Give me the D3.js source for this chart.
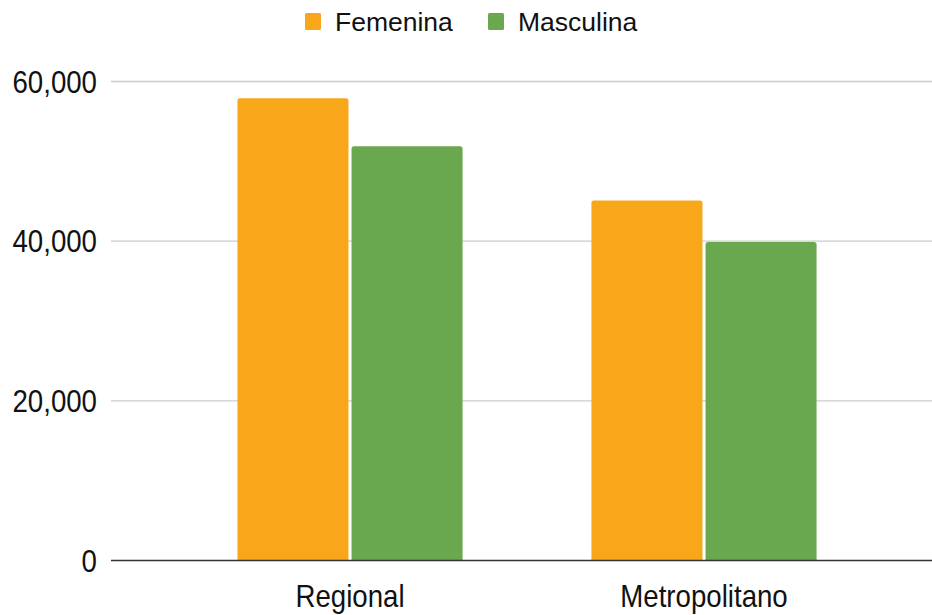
<!DOCTYPE html>
<html>
<head>
    <title></title>
    <meta charset="utf-8">
    <style>
        body { margin: 0; background: #fff; }
        text { font-family: 'Liberation Sans', Arial, sans-serif; fill: #111; }
    </style>
</head>
<body>
<script src="https://cdn.jsdelivr.net/npm/d3@7"></script>
<script>
    var categories = ['Regional', 'Metropolitano'];
    var seriesNames = ['Femenina', 'Masculina'];
    var femenina = [57900, 45100];
    var masculina = [51900, 39900];
    var yTicks = [0, 20000, 40000, 60000];
    var colors = ['#f8a71b', '#6aa84f'];

    var width = 932, height = 615;
    var plot = { left: 111, right: 932, top: 81.5, bottom: 560.5 };

    var svg = d3.select('body').append('svg')
        .attr('width', width)
        .attr('height', height);

    var y = d3.scaleLinear()
        .domain([0, 60000])
        .range([plot.bottom, plot.top]);

    var x0 = d3.scaleBand()
        .domain(categories)
        .range([173, 881])
        .paddingInner(0.364)
        .paddingOuter(0.182);

    var x1 = d3.scaleBand()
        .domain(seriesNames)
        .range([0, x0.bandwidth()])
        .paddingInner(0.027);

    var fmt = d3.format(',');

    // gridlines
    svg.selectAll('line.grid')
        .data(yTicks.filter(function (d) { return d > 0; }))
        .enter().append('line')
        .attr('class', 'grid')
        .attr('x1', plot.left)
        .attr('x2', plot.right)
        .attr('y1', function (d) { return y(d); })
        .attr('y2', function (d) { return y(d); })
        .style('stroke', '#cccccc')
        .style('stroke-width', 1.3);

    // tick labels, a bit taller than wide like the original
    svg.selectAll('text.ytick')
        .data(yTicks)
        .enter().append('text')
        .attr('class', 'ytick')
        .attr('transform', function (d) { return 'translate(97,' + (y(d) + 11) + ') scale(0.97,1.08)'; })
        .attr('text-anchor', 'end')
        .style('font-size', '28.5px')
        .text(function (d) { return fmt(d); });

    var rows = categories.map(function (c, i) {
        return [
            { cat: c, name: seriesNames[0], value: femenina[i], color: colors[0] },
            { cat: c, name: seriesNames[1], value: masculina[i], color: colors[1] }
        ];
    });

    var groups = svg.selectAll('g.cat')
        .data(rows)
        .enter().append('g')
        .attr('class', 'cat')
        .attr('transform', function (d, i) { return 'translate(' + x0(categories[i]) + ',0)'; });

    groups.selectAll('path')
        .data(function (d) { return d; })
        .enter().append('path')
        .style('fill', function (d) { return d.color; })
        .attr('d', function (d) {
            var bx = x1(d.name), bw = x1.bandwidth();
            var top = y(d.value), bot = y(0), r = 2.5;
            return 'M' + bx + ',' + bot +
                'V' + (top + r) +
                'Q' + bx + ',' + top + ' ' + (bx + r) + ',' + top +
                'H' + (bx + bw - r) +
                'Q' + (bx + bw) + ',' + top + ' ' + (bx + bw) + ',' + (top + r) +
                'V' + bot + 'Z';
        });

    // baseline
    svg.append('line')
        .attr('x1', plot.left)
        .attr('x2', plot.right)
        .attr('y1', y(0))
        .attr('y2', y(0))
        .style('stroke', '#333')
        .style('stroke-width', 1.5);

    svg.selectAll('text.xlabel')
        .data(categories)
        .enter().append('text')
        .attr('class', 'xlabel')
        .attr('transform', function (d) { return 'translate(' + (x0(d) + x0.bandwidth() / 2) + ',607) scale(0.97,1.08)'; })
        .attr('text-anchor', 'middle')
        .style('font-size', '28.5px')
        .text(function (d) { return d; });

    // legend
    var legendX = [305, 488];
    var legend = svg.selectAll('g.legend')
        .data(seriesNames)
        .enter().append('g')
        .attr('class', 'legend')
        .attr('transform', function (d, i) { return 'translate(' + legendX[i] + ',0)'; });

    legend.append('rect')
        .attr('x', 0)
        .attr('y', 13)
        .attr('width', 16)
        .attr('height', 17)
        .attr('rx', 1.5)
        .style('fill', function (d, i) { return colors[i]; });

    legend.append('text')
        .attr('x', 30)
        .attr('y', 31)
        .style('font-size', '26.5px')
        .text(function (d) { return d; });
</script>
</body>
</html>
